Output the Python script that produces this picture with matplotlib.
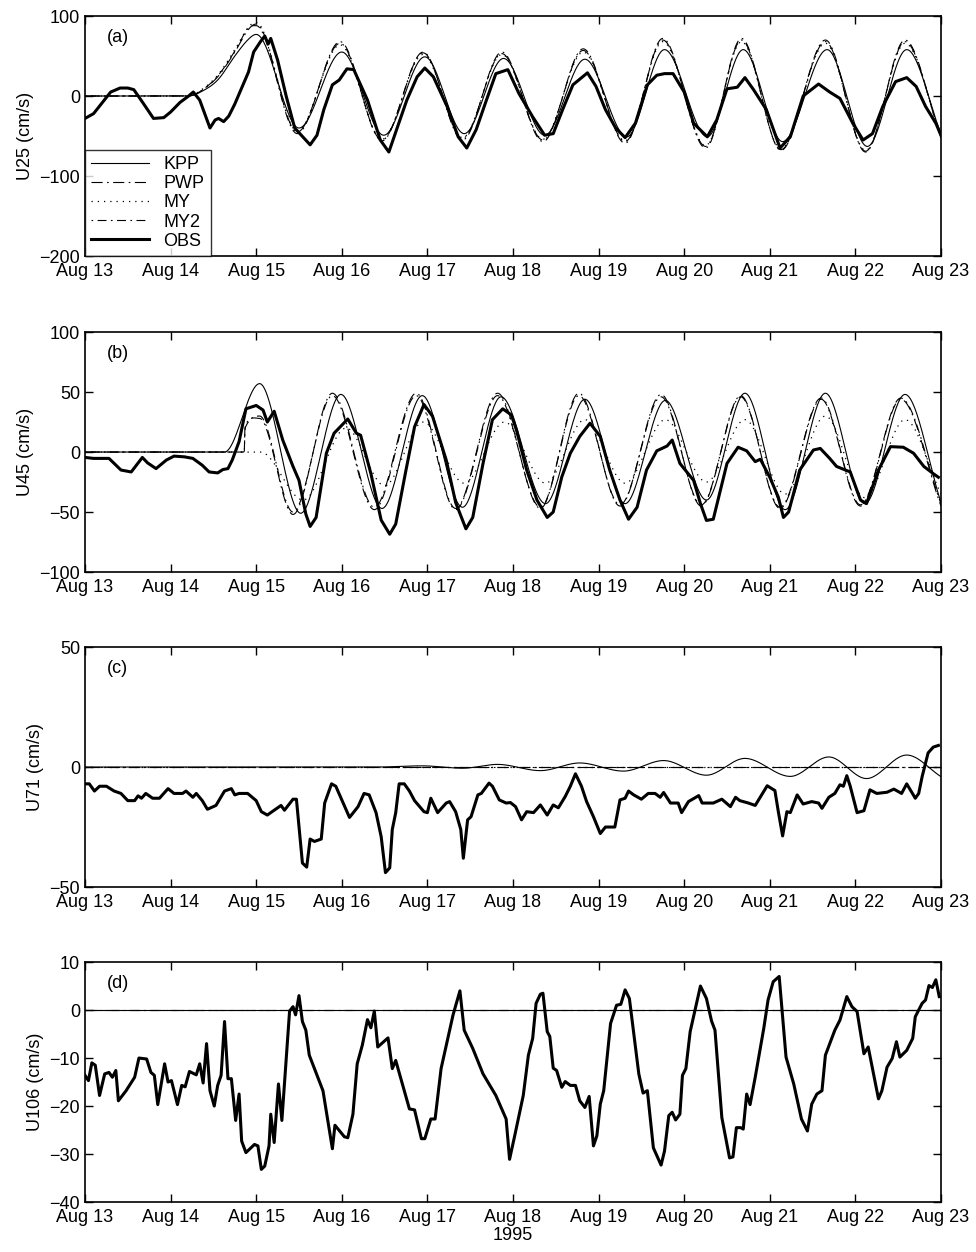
import numpy as np
import matplotlib
matplotlib.use("Agg")
import matplotlib.pyplot as plt

plt.rcParams['font.family'] = ['Liberation Sans', 'DejaVu Sans']

# ---- time axis: days since Aug 13 1995 ----
day_labels = ['Aug 13', 'Aug 14', 'Aug 15', 'Aug 16', 'Aug 17', 'Aug 18',
              'Aug 19', 'Aug 20', 'Aug 21', 'Aug 22', 'Aug 23']

# ---------------- panel (a) U25 ----------------
a_kpp_t = [0, 1.2, 1.35, 1.55, 1.75, 1.9, 2.0, 2.5, 3.0, 3.49, 3.97, 4.43, 4.89, 5.37, 5.84, 6.33, 6.77, 7.27, 7.69, 8.15, 8.67, 9.14, 9.6, 10.0]
a_kpp_v = [0, 0, 5, 20, 50, 70, 77, -40, 55, -49, 49, -47, 47, -49, 46, -51, 58, -51, 58, -57, 58, -63, 58, -47]
a_pwp_t = [0, 1.2, 1.35, 1.55, 1.75, 1.9, 2.0, 2.48, 2.98, 3.47, 3.95, 4.41, 4.87, 5.35, 5.82, 6.31, 6.75, 7.25, 7.67, 8.13, 8.65, 9.12, 9.58, 10.0]
a_pwp_v = [0, 0, 6, 24, 55, 82, 90, -45, 66, -55, 54, -53, 53, -55, 57, -57, 70, -63, 70, -67, 68, -69, 68, -52]
a_my_v = [0, 0, 7, 26, 58, 85, 92, -44, 64, -54, 52, -52, 52, -54, 55, -56, 68, -62, 68, -66, 66, -68, 66, -50]
a_my2_v = [0, 0, 6, 25, 56, 84, 88, -47, 68, -56, 55, -55, 55, -57, 59, -59, 72, -65, 72, -68, 70, -70, 70, -53]
a_obs_t = [0, 0.1, 0.3, 0.41, 0.5, 0.57, 0.68, 0.8, 0.92, 1.0, 1.11, 1.21, 1.265, 1.34, 1.46, 1.52, 1.56, 1.62, 1.68, 1.75, 1.81, 1.91, 1.97, 2.05, 2.1, 2.14, 2.17, 2.25, 2.35, 2.45,
           2.51, 2.63, 2.71, 2.79, 2.89, 2.97, 3.06, 3.14, 3.3, 3.45, 3.55, 3.64, 3.76, 3.88, 3.97, 4.07, 4.23, 4.36, 4.46, 4.57, 4.69, 4.8, 4.94, 5.07, 5.23, 5.37, 5.47, 5.58, 5.7, 5.87, 5.97, 6.08, 6.2, 6.31, 6.43, 6.57,
           6.68, 6.77, 6.87, 7.0, 7.11, 7.27, 7.38, 7.5, 7.62, 7.71, 7.81, 7.96, 8.12, 8.24, 8.39, 8.57, 8.7, 8.82, 8.97, 9.09, 9.2, 9.32, 9.47, 9.6, 9.71, 9.82, 9.94, 10.0]
a_obs_v = [-28, -22, 5, 10, 10, 8, -9, -28, -27, -20, -8, 0, 5, -5, -40, -30, -28, -32, -25, -10, 5, 30, 55, 68, 75, 65, 72, 45, 0, -40,
           -47, -61, -49, -17, 14, 20, 34, 33, -5, -55, -70, -42, -5, 24, 35, 24, -13, -51, -65, -42, -5, 28, 33, 3, -26, -49, -47, -17, 14, 29, 12, -17, -40, -52, -34, 14,
           26, 28, 28, 5, -34, -51, -30, 9, 11, 23, 8, -17, -65, -51, 0, 15, 5, -3, -34, -55, -47, -13, 18, 23, 12, -13, -34, -49]

# ---------------- panel (b) U45 ----------------
b_kpp_t = [0, 1.63, 2.04, 2.52, 2.99, 3.47, 3.94, 4.41, 4.86, 5.38, 5.84, 6.31, 6.78, 7.26, 7.71, 8.18, 8.65, 9.11, 9.58, 10.0]
b_kpp_v = [0, 0, 57, -51, 48, -47, 47, -46, 46, -43, 44, -43, 43, -40, 49, -48, 49, -43, 48, -42]
b_pwp_t = [0, 1.86, 1.87, 2.04, 2.43, 2.89, 3.38, 3.87, 4.33, 4.82, 5.32, 5.77, 6.25, 6.73, 7.2, 7.66, 8.12, 8.6, 9.06, 9.53, 10.0]
b_pwp_v = [0, 0, 22, 28, -52, 49, -46, 49, -47, 49, -47, 49, -45, 48, -45, 47, -47, 44, -45, 44, -45]
b_my2_v = [0, 0, 20, 30, -50, 47, -48, 47, -48, 47, -46, 47, -44, 46, -44, 46, -46, 45, -44, 45, -43]
b_my_t = [0, 2.05, 2.55, 3.05, 3.5, 3.95, 4.43, 4.9, 5.38, 5.84, 6.31, 6.78, 7.26, 7.71, 8.18, 8.65, 9.11, 9.58, 10.0]
b_my_v = [0, 0, -40, 20, -28, 25, -26, 25, -26, 27, -26, 27, -25, 27, -35, 30, -38, 27, -35]
b_obs_t = [0, 0.1, 0.28, 0.42, 0.54, 0.6, 0.67, 0.73, 0.83, 0.95, 1.04, 1.16, 1.26, 1.37, 1.45, 1.55, 1.61, 1.67, 1.72, 1.8, 1.88, 2.0, 2.08, 2.13, 2.21, 2.31, 2.43, 2.5, 2.58, 2.63,
           2.7, 2.82, 2.91, 3.07, 3.17, 3.22, 3.34, 3.46, 3.56, 3.63, 3.75, 3.85, 3.96, 4.06, 4.22, 4.33, 4.45, 4.53, 4.65, 4.76, 4.88, 4.98, 5.04, 5.16, 5.28, 5.4, 5.47, 5.57, 5.67,
           5.78, 5.9, 6.02, 6.13, 6.25, 6.35, 6.45, 6.56, 6.68, 6.8, 6.86, 6.95, 7.11, 7.19, 7.26, 7.34, 7.5, 7.63, 7.73, 7.83, 7.89, 8.0, 8.1, 8.16, 8.22, 8.35, 8.51, 8.59, 8.7,
           8.78, 8.94, 9.06, 9.13, 9.27, 9.41, 9.56, 9.68, 9.8, 9.91, 9.97]
b_obs_v = [-4.5, -5.3, -5.3, -15, -16.6, -11, -4.5, -9, -13.8, -6.7, -3.4, -4, -5.3, -11, -16.6, -17.4, -14.6, -13.8, -6.7, 8.7, 36, 38.8, 35, 25, 34, 10, -12, -23.6, -51.7, -62,
           -54.5, -1, 15.7, 27.5, 15.7, 14, -18, -56.7, -68.5, -60, -15, 21, 39.6, 29.8, -6.7, -42, -64, -54.5, -9.5, 27, 36, 31, 18.5, -15, -40, -54.5, -50, -20.8, -1,
           13, 24, 13, -15, -40, -56, -46, -15, 1, 5, 10, -9.5, -23.6, -43, -57, -56, -9.5, 4, 1, -8, -6, -21, -37.6, -54.5, -50, -15, 1.7, 3, -5.3,
           -12, -16.6, -40, -43, -15, 4.5, 4, -1, -12, -18, -21]

# ---------------- panel (c) U71 ----------------
c_kpp_t = [0, 3.4, 3.94, 4.41, 4.82, 5.32, 5.78, 6.29, 6.76, 7.26, 7.71, 8.24, 8.69, 9.13, 9.6, 10.0]
c_kpp_v = [0, 0, 0.5, -0.5, 1.1, -1.5, 1.7, -1.7, 2.7, -3.4, 3.6, -3.9, 4.2, -4.8, 5, -4]
c_other_t = [0, 10]
c_other_v = [0, 0]
c_obs_t = [0, 0.05, 0.11, 0.17, 0.25, 0.34, 0.42, 0.5, 0.58, 0.62, 0.66, 0.71, 0.79, 0.87, 0.97, 1.04, 1.14, 1.18, 1.26, 1.3, 1.37, 1.43, 1.53, 1.63, 1.71, 1.75, 1.8, 1.9, 2.0, 2.06,
           2.13, 2.21, 2.29, 2.33, 2.43, 2.47, 2.54, 2.59, 2.63, 2.68, 2.76, 2.8, 2.88, 2.93, 3.09, 3.19, 3.26, 3.32, 3.4, 3.46, 3.51, 3.56, 3.59, 3.63, 3.67, 3.73, 3.79, 3.85,
           3.96, 4.0, 4.04, 4.12, 4.22, 4.26, 4.33, 4.39, 4.42, 4.47, 4.51, 4.59, 4.63, 4.72, 4.76, 4.84, 4.92, 4.97, 5.03, 5.1, 5.16, 5.24, 5.32, 5.4, 5.47, 5.53, 5.61, 5.67,
           5.73, 5.8, 5.86, 5.94, 6.02, 6.08, 6.19, 6.25, 6.31, 6.35, 6.41, 6.5, 6.58, 6.66, 6.72, 6.76, 6.84, 6.93, 6.97, 7.05, 7.17, 7.21, 7.34, 7.44, 7.54, 7.6, 7.65, 7.75,
           7.83, 7.97, 8.06, 8.1, 8.15, 8.2, 8.24, 8.32, 8.39, 8.49, 8.57, 8.61, 8.69, 8.76, 8.82, 8.86, 8.9, 8.94, 9.02, 9.1, 9.17, 9.25, 9.37, 9.45, 9.54, 9.6, 9.7, 9.74,
           9.78, 9.85, 9.91, 9.97]
c_obs_v = [-7, -7, -10, -8, -8, -10, -11, -14, -14, -12, -13, -11, -13, -13, -9, -11, -11, -10, -12.6, -11, -14, -17.6, -16, -10, -9, -11.6, -11, -11, -14, -18.6,
           -20, -18, -16, -18, -13.4, -13.4, -40, -41.7, -30, -31, -30, -15, -7, -8, -21, -16.5, -11, -11.6, -19, -29, -44, -42, -26, -19, -7, -7, -10, -14,
           -18.6, -19, -13, -19, -15, -14.4, -18.6, -26, -38, -22, -20.7, -11.6, -11, -6.7, -8, -13.7, -15, -14.8, -16.5, -22, -18.6, -19, -15.8, -20, -15.8, -17, -12.3, -8,
           -2.8, -8, -14.4, -20.7, -27.7, -25, -25, -13.7, -13, -10, -11.6, -13.4, -11, -11, -12.6, -10.6, -15, -15, -19, -14.4, -11.9, -15, -15, -13.4, -16.5, -12.6, -14, -15,
           -16, -7.8, -9.8, -18.6, -28.7, -18.6, -19, -11.6, -15.4, -14.4, -15, -17.2, -12.6, -11, -7.4, -8, -3.6, -8, -19, -18.2, -9.5, -11, -10.5, -9.2, -11, -7, -13, -11,
           -4, 5.9, 8.3, 9]

# ---------------- panel (d) U106 ----------------
d_model_t = [0, 10]
d_model_v = [0, 0]
d_obs_t = [0, 0.04, 0.08, 0.12, 0.17, 0.23, 0.28, 0.32, 0.36, 0.39, 0.48, 0.58, 0.63, 0.72, 0.77, 0.81, 0.85, 0.93, 0.97, 1.01, 1.08, 1.13, 1.17, 1.22, 1.3, 1.34, 1.38,
           1.42, 1.46, 1.51, 1.55, 1.59, 1.63, 1.67, 1.71, 1.76, 1.8, 1.83, 1.88, 1.98, 2.02, 2.06, 2.1, 2.15, 2.17, 2.21, 2.26, 2.3, 2.39, 2.43, 2.46, 2.5, 2.54, 2.58, 2.62,
           2.78, 2.89, 2.92, 3.03, 3.07, 3.13, 3.18, 3.24, 3.3, 3.34, 3.38, 3.42, 3.54, 3.59, 3.63, 3.79, 3.85, 3.93, 3.97, 4.04, 4.09, 4.16, 4.3, 4.38, 4.43, 4.53, 4.65, 4.8,
           4.92, 4.96, 5.02, 5.12, 5.18, 5.23, 5.27, 5.32, 5.35, 5.4, 5.43, 5.47, 5.51, 5.57, 5.61, 5.67, 5.73, 5.78, 5.84, 5.89, 5.94, 5.98, 6.02, 6.06, 6.14, 6.21, 6.26, 6.31,
           6.36, 6.47, 6.52, 6.57, 6.64, 6.73, 6.77, 6.82, 6.86, 6.9, 6.95, 6.98, 7.02, 7.07, 7.19, 7.26, 7.32, 7.36, 7.44, 7.53, 7.57, 7.61, 7.66, 7.69, 7.73, 7.77, 7.83, 7.93,
           7.98, 8.04, 8.11, 8.19, 8.28, 8.37, 8.44, 8.49, 8.55, 8.61, 8.65, 8.76, 8.82, 8.9, 8.96, 9.02, 9.1, 9.15, 9.27, 9.31, 9.37, 9.43, 9.48, 9.52, 9.6, 9.67, 9.7, 9.78,
           9.82, 9.86, 9.9, 9.94, 9.98]
d_obs_v = [-13.6, -14.7, -11, -11.5, -17.8, -13.3, -13, -14, -12.6, -18.9, -16.8, -14, -10, -10.2, -13, -13.6, -19.7, -11.2, -15, -14.7, -19.7, -15.7, -16, -12.8, -13.5, -11.2, -15.2,
           -7, -16.8, -20, -15.7, -13.6, -2.4, -14.3, -14.3, -23, -17.5, -27.3, -29.7, -28, -28.3, -33.2, -32.5, -28.3, -21.7, -27.6, -15.4, -23, -0.2, 0.7, -1, 3, -2.4, -4.2, -9.4,
           -16.8, -28.9, -24, -26.4, -26.6, -21.7, -11.2, -7.3, -2, -3.7, -0.2, -7.7, -5.8, -12.2, -10.5, -20.6, -20.8, -26.8, -26.8, -22.7, -22.7, -12.2, -1, 4, -4.2, -8, -13.3, -17.8,
           -22.7, -31.1, -26.2, -17.8, -9.4, -5.9, 1.4, 3.3, 3.5, -4.5, -5.5, -12.1, -12.6, -16.1, -14.9, -15.7, -15.7, -18.9, -20.3, -18, -28.3, -26.2, -19.6, -16.8, -2.8, 1, 1.2, 4.2,
           2.4, -13.3, -17.3, -16.8, -28.7, -32.3, -29.4, -22, -21.3, -22.9, -21.7, -13.6, -12.2, -4.5, 5, 2.4, -2.3, -4.2, -22.4, -30.8, -30.6, -24.5, -24.5, -24.8, -17.5, -19.7, -14, -3.8,
           2.1, 5.9, 7, -9.8, -15.4, -22.7, -25.2, -19.6, -17.5, -16.8, -9.4, -4.2, -2.1, 2.8, 0.7, -0.3, -9.1, -7.7, -18.5, -16.8, -11.9, -10.1, -6.6, -9.8, -8.4, -5.9, -1.4, 1.4,
           2.1, 5.1, 4.7, 6.3, 2.8]


def smooth(t, v, n=1500):
    """Cubic Hermite rendering through the read keypoints."""
    t = np.asarray(t, float); v = np.asarray(v, float)
    if len(t) < 3:
        return t, v
    m = np.zeros_like(v)
    m[1:-1] = (v[2:] - v[:-2]) / (t[2:] - t[:-2])
    m[0] = (v[1] - v[0]) / (t[1] - t[0]); m[-1] = (v[-1] - v[-2]) / (t[-1] - t[-2])
    for i in range(1, len(v) - 1):
        if (v[i] - v[i - 1]) * (v[i + 1] - v[i]) <= 0:
            m[i] = 0
    tt = np.linspace(t[0], t[-1], n)
    idx = np.clip(np.searchsorted(t, tt) - 1, 0, len(t) - 2)
    h = t[idx + 1] - t[idx]
    s = (tt - t[idx]) / h
    h00 = 2 * s**3 - 3 * s**2 + 1; h10 = s**3 - 2 * s**2 + s
    h01 = -2 * s**3 + 3 * s**2; h11 = s**3 - s**2
    vv = h00 * v[idx] + h10 * h * m[idx] + h01 * v[idx + 1] + h11 * h * m[idx + 1]
    return tt, vv


st_kpp = dict(color='black', lw=0.8, ls='-')
st_pwp = dict(color='black', lw=0.8, ls=(0, (10, 4, 1.5, 4)))
st_my = dict(color='black', lw=0.9, ls=(0, (1, 4)))
st_my2 = dict(color='black', lw=0.8, ls=(0, (1.5, 4, 8, 4)))
st_obs = dict(color='black', lw=2.2, ls='-')

FS = 13
fig = plt.figure(figsize=(9.76, 12.52), dpi=100)
L, Wd, H = 0.0871, 0.877, 0.1917
bottoms = [0.7955, 0.5431, 0.2915, 0.0399]
axes = [fig.add_axes([L, b, Wd, H]) for b in bottoms]

ax = axes[0]
ax.plot(*smooth(a_kpp_t, a_kpp_v), label='KPP', **st_kpp)
ax.plot(*smooth(a_pwp_t, a_pwp_v), label='PWP', **st_pwp)
ax.plot(*smooth(a_pwp_t, a_my_v), label='MY', **st_my)
ax.plot(*smooth(a_pwp_t, a_my2_v), label='MY2', **st_my2)
ax.plot(a_obs_t, a_obs_v, label='OBS', **st_obs)
ax.set_ylim(-200, 100); ax.set_yticks([-200, -100, 0, 100])
ax.set_ylabel('U25 (cm/s)', fontsize=FS)
leg = ax.legend(loc='lower left', fontsize=FS, fancybox=False, edgecolor='black',
                borderaxespad=0, handlelength=3.2, labelspacing=0.12, borderpad=0.35)
leg.get_frame().set_linewidth(1.0)

ax = axes[1]
ax.plot(*smooth(b_kpp_t, b_kpp_v), **st_kpp)
ax.plot(*smooth(b_pwp_t, b_pwp_v), **st_pwp)
ax.plot(*smooth(b_my_t, b_my_v), **st_my)
ax.plot(*smooth(b_pwp_t, b_my2_v), **st_my2)
ax.plot(b_obs_t, b_obs_v, **st_obs)
ax.set_ylim(-100, 100); ax.set_yticks([-100, -50, 0, 50, 100])
ax.set_ylabel('U45 (cm/s)', fontsize=FS)

ax = axes[2]
ax.plot(*smooth(c_kpp_t, c_kpp_v), **st_kpp)
ax.plot(c_other_t, c_other_v, **st_pwp)
ax.plot(c_other_t, c_other_v, **st_my)
ax.plot(c_other_t, c_other_v, **st_my2)
ax.plot(c_obs_t, c_obs_v, **st_obs)
ax.set_ylim(-50, 50); ax.set_yticks([-50, 0, 50])
ax.set_ylabel('U71 (cm/s)', fontsize=FS)

ax = axes[3]
ax.plot(d_model_t, d_model_v, **st_kpp)
ax.plot(d_model_t, d_model_v, **st_pwp)
ax.plot(d_model_t, d_model_v, **st_my2)
ax.plot(d_obs_t, d_obs_v, **st_obs)
ax.set_ylim(-40, 10); ax.set_yticks([-40, -30, -20, -10, 0, 10])
ax.set_ylabel('U106 (cm/s)', fontsize=FS)
ax.set_xlabel('1995', fontsize=FS, labelpad=1)

for ax, lab in zip(axes, ['(a)', '(b)', '(c)', '(d)']):
    ax.set_xlim(0, 10)
    ax.set_xticks(range(11))
    ax.set_xticklabels(day_labels)
    ax.tick_params(direction='in', top=True, right=True, labelsize=FS, length=6, width=1)
    ax.tick_params(axis='x', pad=5)
    for s in ax.spines.values():
        s.set_linewidth(1.2)
    ax.text(0.025, 0.89, lab, transform=ax.transAxes, fontsize=FS)

fig.savefig('out.png', dpi=100)
